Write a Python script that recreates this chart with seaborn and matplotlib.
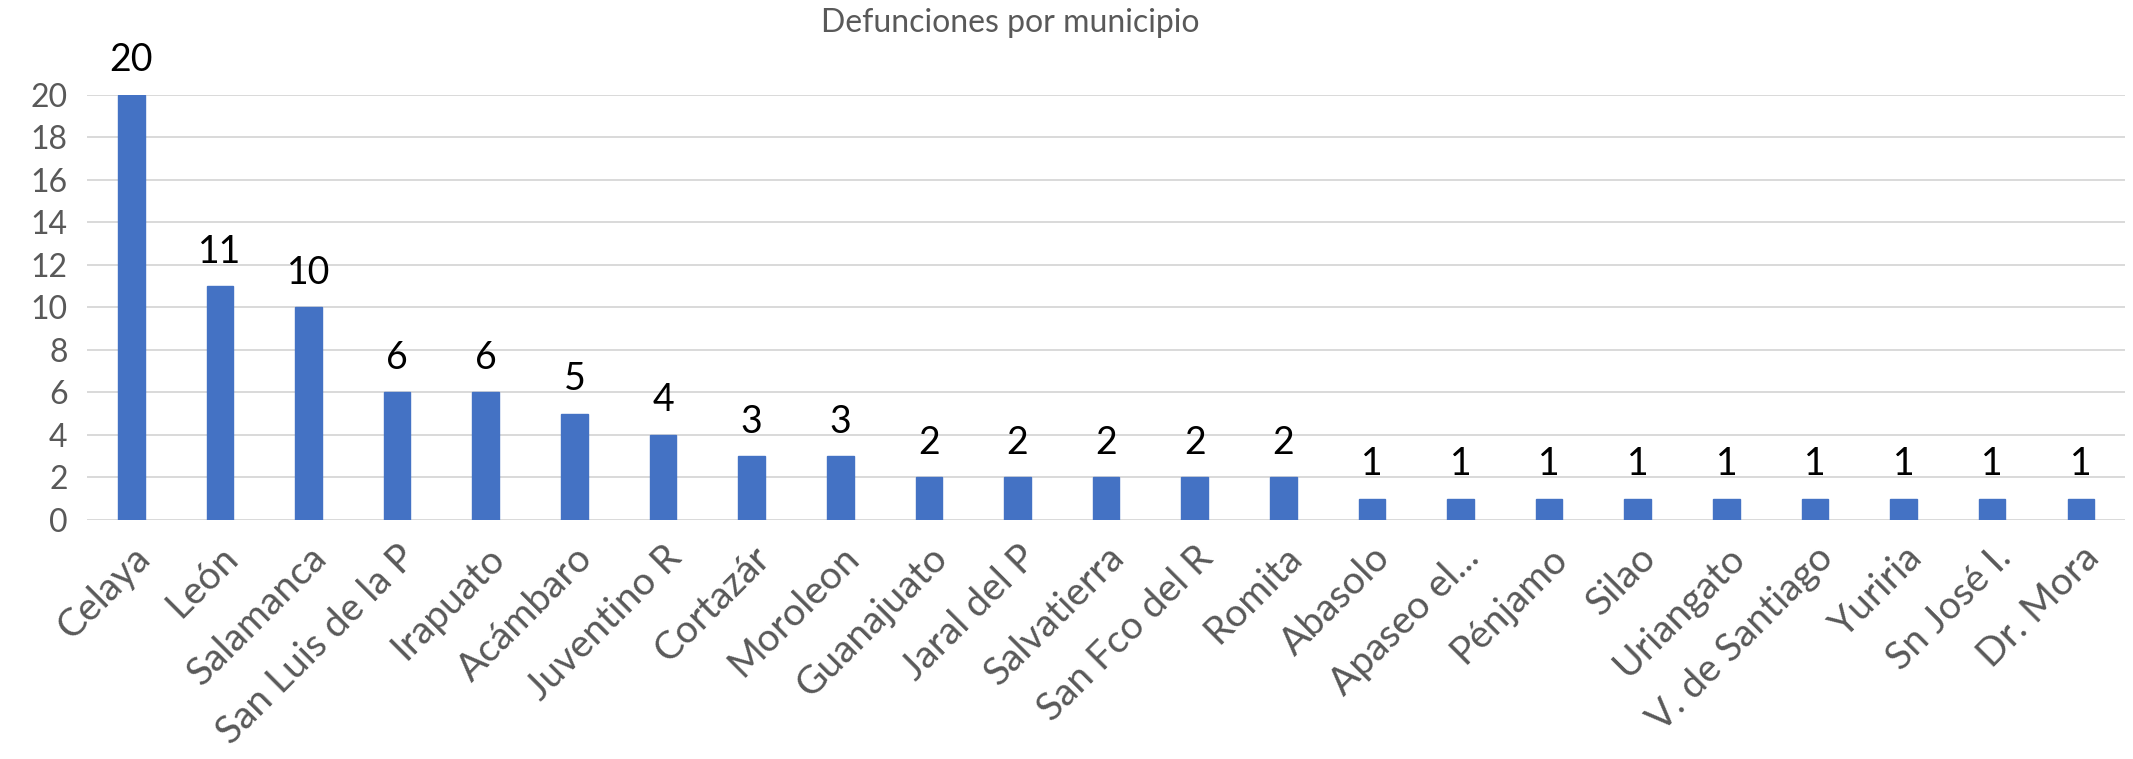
import matplotlib
matplotlib.use('Agg')
import matplotlib.pyplot as plt
import seaborn as sns
import pandas as pd

municipios = ['Celaya', 'León', 'Salamanca', 'San Luis de la P', 'Irapuato', 'Acámbaro',
              'Juventino R', 'Cortazár', 'Moroleon', 'Guanajuato', 'Jaral del P', 'Salvatierra',
              'San Fco del R', 'Romita', 'Abasolo', 'Apaseo el...', 'Pénjamo', 'Silao',
              'Uriangato', 'V. de Santiago', 'Yuriria', 'Sn José I.', 'Dr. Mora']
defunciones = [20, 11, 10, 6, 6, 5, 4, 3, 3, 2, 2, 2, 2, 2, 1, 1, 1, 1, 1, 1, 1, 1, 1]
y_ticks = [0, 2, 4, 6, 8, 10, 12, 14, 16, 18, 20]

df = pd.DataFrame({'municipio': municipios, 'defunciones': defunciones})

sns.set_style('white')
plt.rcParams['font.family'] = ['Lato', 'DejaVu Sans']

fig = plt.figure(figsize=(21.33, 7.59), dpi=100)
ax = fig.add_axes([0.0408, 0.315, 0.9555, 0.56])

sns.barplot(data=df, x='municipio', y='defunciones', color='#4472C4', width=0.30,
            saturation=1, ax=ax, zorder=3, edgecolor='#4472C4')

ax.set_ylim(0, 20)
ax.set_xlim(-0.5, len(municipios) - 0.5)
ax.set_yticks(y_ticks)
ax.yaxis.grid(True, color='#D9D9D9', linewidth=1.4, zorder=0)
ax.set_axisbelow(True)
for s in ax.spines.values():
    s.set_visible(False)

ax.tick_params(axis='y', length=0, labelsize=23, labelcolor='#595959', pad=14)
ax.tick_params(axis='x', length=0, labelsize=28, labelcolor='#595959', pad=14)
ax.set_xlabel('')
ax.set_ylabel('')
plt.setp(ax.get_xticklabels(), rotation=45, ha='right', rotation_mode='anchor')

for i, v in enumerate(defunciones):
    ax.annotate(str(v), (i, v), xytext=(0, 17), textcoords='offset points',
                ha='center', va='baseline', fontsize=27, color='black', clip_on=False)

fig.text(0.4735, 0.97, 'Defunciones por municipio', ha='center', va='center',
         fontsize=23, color='#595959')

fig.savefig('out.png', dpi=100)
